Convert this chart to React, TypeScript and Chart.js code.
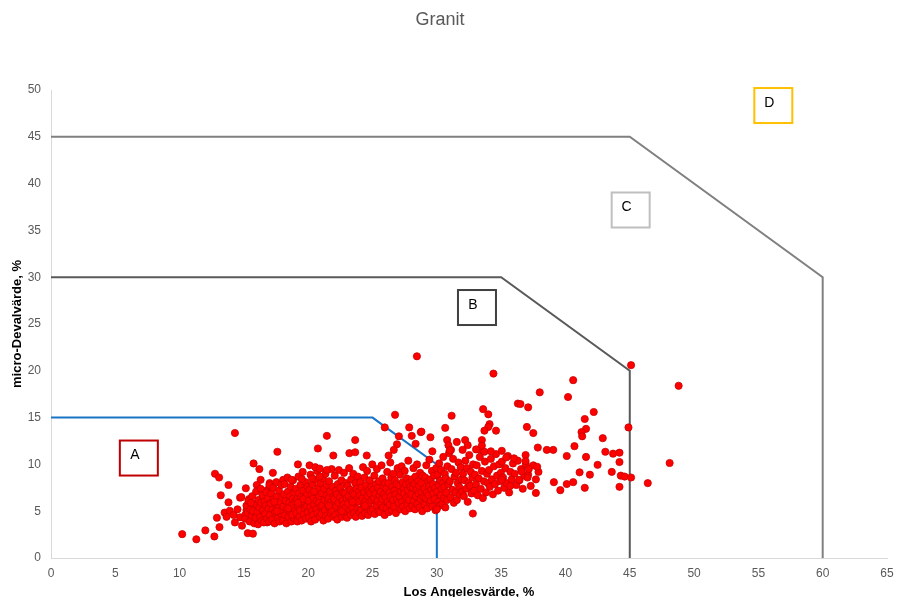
import React, { useEffect, useRef } from 'react';
import { Chart, registerables } from 'chart.js';

Chart.register(...registerables);

const chartTitle = 'Granit';
const xTitle = 'Los Angelesvärde, %';
const yTitle = 'micro-Devalvärde, %';

const xTicks = { min: 0, max: 65, step: 5 };
const yTicks = { min: 0, max: 50, step: 5 };

// Granite test results: [Los Angeles value %, micro-Deval value %]
const lowSamples: [number, number][] = [
  [10.2, 2.55], [11.3, 2.0], [12.0, 2.95], [12.7, 2.3], [12.75, 9.0], [13.07, 8.6], [12.9, 4.3],
  [13.1, 3.3], [13.2, 6.7], [13.5, 4.85], [13.65, 4.4], [13.8, 7.8], [13.8, 5.95], [13.9, 5.05],
  [14.3, 13.35], [14.3, 3.8], [14.7, 6.45], [14.85, 3.45], [14.7, 4.35], [15.3, 2.65], [15.7, 2.6],
  [15.15, 7.45], [14.8, 6.5], [15.4, 6.3], [15.75, 10.1], [16.2, 9.5], [16.3, 8.35], [16.0, 7.8],
  [17.25, 9.1], [17.0, 8.0], [17.6, 11.35], [16.8, 7.25], [18.05, 8.35], [18.4, 4.1], [19.2, 10.0],
  [16.0, 3.9], [16.8, 3.8], [15.2, 5.1], [15.75, 5.65], [15.1, 4.6], [14.2, 4.6], [14.5, 5.2],
];

const coreSamples: [number, number][] = [
  [15.1, 4.2], [15.2, 5.6], [15.3, 4.8], [15.35, 6.1], [15.45, 3.9], [15.5, 5.2], [15.6, 4.5],
  [15.65, 6.6], [15.7, 5.0], [15.8, 3.7], [15.85, 5.8], [15.9, 4.3], [15.95, 7.1], [15.55, 5.9],
  [16.05, 4.9], [16.1, 3.6], [16.15, 6.2], [16.2, 5.4], [16.25, 4.4], [16.3, 7.4], [16.35, 5.9],
  [16.4, 4.0], [16.45, 6.7], [16.5, 5.1], [16.55, 3.8], [16.6, 6.0], [16.65, 4.7], [16.7, 5.6],
  [16.75, 7.0], [16.8, 4.2], [16.85, 6.4], [16.9, 5.3], [16.95, 3.9], [16.98, 7.8],
  [17.02, 4.6], [17.08, 5.8], [17.12, 6.9], [17.18, 4.1], [17.22, 5.2], [17.28, 7.5], [17.33, 6.3],
  [17.38, 3.7], [17.42, 4.9], [17.47, 5.7], [17.52, 8.1], [17.57, 6.6], [17.62, 4.3], [17.67, 5.4],
  [17.72, 7.2], [17.76, 3.9], [17.8, 6.0], [17.85, 4.8], [17.9, 7.8], [17.94, 5.1], [17.97, 6.5],
  [17.55, 5.0], [17.35, 6.0],
  [18.03, 4.0], [18.07, 5.5], [18.12, 6.8], [18.16, 7.9], [18.2, 4.6], [18.25, 6.1], [18.3, 3.7],
  [18.34, 5.2], [18.38, 8.6], [18.42, 7.1], [18.47, 4.4], [18.52, 5.9], [18.56, 6.6], [18.6, 4.9],
  [18.64, 7.6], [18.69, 3.9], [18.73, 5.6], [18.78, 6.3], [18.82, 8.3], [18.86, 4.3], [18.9, 7.0],
  [18.94, 5.0], [18.98, 6.0], [18.45, 5.3], [18.75, 4.6],
  [19.03, 7.4], [19.07, 4.8], [19.11, 6.2], [19.15, 3.9], [19.19, 5.6], [19.24, 8.7], [19.28, 6.9],
  [19.32, 4.4], [19.36, 5.1], [19.4, 7.8], [19.45, 6.5], [19.49, 4.0], [19.53, 5.8], [19.57, 9.2],
  [19.62, 7.2], [19.66, 4.7], [19.7, 6.0], [19.74, 5.3], [19.78, 8.1], [19.82, 4.2], [19.86, 6.7],
  [19.9, 5.5], [19.94, 7.6], [19.97, 4.9], [19.6, 6.3], [19.2, 5.9],
  [20.02, 6.1], [20.06, 4.3], [20.1, 7.3], [20.14, 5.4], [20.18, 8.9], [20.22, 3.9], [20.26, 6.8],
  [20.3, 5.0], [20.34, 7.9], [20.38, 4.6], [20.42, 6.4], [20.46, 5.7], [20.5, 8.4], [20.54, 4.1],
  [20.58, 7.0], [20.62, 5.2], [20.66, 6.1], [20.7, 9.3], [20.74, 4.8], [20.78, 7.5], [20.82, 5.9],
  [20.86, 6.6], [20.9, 4.4], [20.94, 8.0], [20.98, 5.5], [20.45, 7.1],
  [21.02, 4.7], [21.06, 6.9], [21.1, 5.6], [21.14, 8.5], [21.18, 4.0], [21.22, 7.4], [21.26, 6.2],
  [21.3, 5.1], [21.34, 9.0], [21.38, 4.5], [21.42, 6.7], [21.46, 7.8], [21.5, 5.8], [21.54, 4.2],
  [21.58, 6.4], [21.62, 8.2], [21.66, 5.3], [21.7, 7.1], [21.74, 4.8], [21.78, 6.0], [21.82, 9.5],
  [21.86, 5.0], [21.9, 7.6], [21.94, 6.5], [21.98, 4.4], [21.6, 5.6],
  [22.02, 6.3], [22.06, 8.8], [22.1, 4.6], [22.14, 7.2], [22.18, 5.5], [22.22, 6.8], [22.26, 4.1],
  [22.3, 7.9], [22.34, 5.9], [22.38, 9.4], [22.42, 4.9], [22.46, 6.5], [22.5, 7.5], [22.54, 5.2],
  [22.58, 8.3], [22.62, 4.4], [22.66, 6.1], [22.7, 7.0], [22.74, 5.7], [22.78, 9.1], [22.82, 4.7],
  [22.86, 6.9], [22.9, 5.4], [22.94, 8.0], [22.98, 6.4], [22.6, 5.0],
  [23.02, 4.3], [23.06, 7.7], [23.1, 5.8], [23.14, 6.6], [23.18, 9.6], [23.22, 5.0], [23.26, 7.3],
  [23.3, 4.6], [23.34, 8.4], [23.38, 6.2], [23.42, 5.4], [23.46, 7.0], [23.5, 9.0], [23.54, 4.8],
  [23.58, 6.8], [23.62, 5.9], [23.66, 8.0], [23.7, 4.4], [23.74, 7.4], [23.78, 6.3], [23.82, 5.2],
  [23.86, 8.7], [23.9, 6.0], [23.94, 7.1], [23.98, 4.9], [23.45, 6.0],
  [24.02, 6.7], [24.06, 8.1], [24.1, 5.1], [24.14, 7.5], [24.18, 4.5], [24.22, 6.4], [24.26, 9.7],
  [24.3, 5.7], [24.34, 7.0], [24.38, 8.6], [24.42, 4.8], [24.46, 6.1], [24.5, 7.8], [24.54, 5.4],
  [24.58, 9.3], [24.62, 6.6], [24.66, 4.6], [24.7, 7.2], [24.74, 5.9], [24.78, 8.3], [24.82, 6.9],
  [24.86, 5.0], [24.9, 7.6], [24.94, 6.2], [24.98, 10.0], [24.4, 5.6],
  [25.02, 5.2], [25.06, 7.3], [25.1, 6.4], [25.14, 8.8], [25.18, 4.7], [25.22, 6.9], [25.26, 7.9],
  [25.3, 5.6], [25.34, 9.5], [25.38, 6.1], [25.42, 7.5], [25.46, 5.0], [25.5, 8.2], [25.54, 6.7],
  [25.58, 4.9], [25.62, 7.1], [25.66, 5.8], [25.7, 9.9], [25.74, 6.3], [25.78, 8.5], [25.82, 5.4],
  [25.86, 7.7], [25.9, 6.8], [25.94, 4.6], [25.98, 8.0],
  [26.02, 6.5], [26.06, 7.4], [26.1, 5.3], [26.14, 9.2], [26.18, 6.0], [26.22, 8.0], [26.26, 4.9],
  [26.3, 7.0], [26.34, 5.7], [26.38, 10.2], [26.42, 6.6], [26.46, 8.6], [26.5, 5.1], [26.54, 7.6],
  [26.58, 6.2], [26.62, 9.0], [26.66, 5.5], [26.7, 7.2], [26.74, 8.3], [26.78, 6.8], [26.82, 4.8],
  [26.86, 7.9], [26.9, 6.3], [26.95, 9.6],
  [27.02, 5.9], [27.06, 7.7], [27.1, 6.6], [27.14, 8.9], [27.18, 5.2], [27.22, 7.1], [27.26, 9.8],
  [27.3, 6.0], [27.34, 8.1], [27.38, 5.5], [27.42, 7.4], [27.46, 6.9], [27.5, 9.3], [27.54, 5.0],
  [27.58, 7.9], [27.62, 6.4], [27.66, 8.5], [27.7, 5.7], [27.74, 7.2], [27.78, 10.4], [27.82, 6.2],
  [27.86, 8.0], [27.9, 5.3], [27.95, 7.6],
  [28.02, 6.8], [28.06, 8.4], [28.1, 5.6], [28.14, 7.5], [28.18, 9.6], [28.22, 6.1], [28.26, 7.9],
  [28.3, 5.2], [28.34, 8.7], [28.38, 6.6], [28.42, 7.3], [28.46, 10.0], [28.5, 5.8], [28.54, 8.2],
  [28.58, 6.9], [28.62, 7.7], [28.66, 5.4], [28.7, 9.1], [28.74, 6.3], [28.78, 8.0], [28.82, 7.0],
  [28.86, 5.0], [28.9, 8.8], [28.95, 6.5],
  [29.02, 7.4], [29.06, 5.7], [29.1, 8.6], [29.14, 6.4], [29.18, 9.9], [29.22, 7.0], [29.26, 5.3],
  [29.3, 8.1], [29.34, 6.7], [29.38, 7.7], [29.42, 10.5], [29.46, 5.9], [29.5, 8.4], [29.54, 6.1],
  [29.58, 7.3], [29.62, 9.3], [29.66, 5.5], [29.7, 7.9], [29.74, 6.9], [29.78, 8.8], [29.82, 6.3],
  [29.86, 7.5], [29.9, 5.1], [29.95, 9.6],
  [30.02, 7.1], [30.06, 8.9], [30.1, 6.0], [30.14, 7.8], [30.18, 10.1], [30.22, 5.6], [30.26, 8.3],
  [30.3, 6.7], [30.34, 9.4], [30.38, 7.4], [30.42, 5.8], [30.46, 8.0], [30.5, 10.8], [30.54, 6.4],
  [30.58, 7.6], [30.62, 9.0], [30.66, 5.4], [30.7, 8.5], [30.74, 7.0], [30.78, 6.2], [30.82, 9.8],
  [30.9, 7.9], [30.95, 11.2],
  [31.02, 8.2], [31.08, 6.5], [31.14, 9.5], [31.2, 7.3], [31.26, 10.6], [31.32, 5.9], [31.38, 8.7],
  [31.44, 7.0], [31.5, 9.1], [31.56, 6.2], [31.62, 8.0], [31.68, 10.2], [31.74, 7.6], [31.8, 6.8],
  [31.86, 9.7], [31.92, 8.4], [31.97, 7.1],
  [32.04, 9.0], [32.1, 6.6], [32.16, 8.3], [32.22, 10.4], [32.28, 7.4], [32.34, 9.6], [32.4, 6.0],
  [32.46, 8.0], [32.52, 11.0], [32.58, 7.7], [32.64, 9.2], [32.7, 6.9], [32.76, 8.6], [32.82, 10.0],
  [32.9, 7.2], [32.96, 8.9],
  [33.04, 7.9], [33.1, 9.9], [33.18, 6.7], [33.26, 8.5], [33.34, 10.8], [33.42, 7.4], [33.5, 9.3],
  [33.58, 6.4], [33.66, 8.2], [33.74, 10.3], [33.82, 7.0], [33.9, 9.0], [33.96, 8.0], [33.3, 11.6],
  [34.05, 9.4], [34.12, 7.6], [34.2, 10.6], [34.28, 8.4], [34.36, 6.8], [34.44, 9.8], [34.52, 7.9],
  [34.6, 11.1], [34.68, 8.8], [34.76, 7.2], [34.84, 10.0], [34.92, 8.2], [34.98, 9.1],
  [35.06, 10.3], [35.15, 8.6], [35.24, 7.5], [35.33, 9.6], [35.42, 8.0], [35.52, 10.9], [35.62, 7.0],
  [35.72, 9.2], [35.82, 8.4], [35.92, 10.1],
  [36.05, 9.0], [36.18, 7.8], [36.3, 10.4], [36.42, 8.3], [36.55, 9.5], [36.68, 7.4], [36.8, 8.8],
  [36.92, 10.0],
  [37.1, 8.9], [37.3, 7.7], [37.5, 9.9], [37.7, 8.4], [37.9, 9.2],
];

const upperSamples: [number, number][] = [
  [18.7, 8.35], [19.5, 8.45], [20.3, 8.5], [20.9, 8.7], [20.1, 9.9], [20.55, 9.7], [20.9, 9.55],
  [21.45, 9.4], [21.45, 13.05], [23.65, 12.6], [20.75, 11.7], [21.95, 10.95], [23.2, 11.2],
  [23.65, 11.3], [24.55, 10.95], [25.95, 13.95], [27.85, 13.95], [28.75, 13.45], [29.5, 12.9],
  [30.65, 13.9], [27.05, 13.0], [28.05, 13.05], [28.35, 12.2], [26.9, 12.15], [26.65, 11.55],
  [26.25, 10.95], [29.65, 11.4], [28.45, 21.55], [26.75, 15.3], [28.8, 13.5], [30.8, 12.6],
  [30.9, 12.05], [31.55, 12.4], [32.2, 12.6], [32.4, 12.05], [32.0, 11.55], [31.1, 11.55],
  [30.0, 5.2], [32.8, 4.75], [31.15, 15.2],
];

const highSamples: [number, number][] = [
  [34.4, 19.7], [45.1, 20.6], [48.8, 18.4], [40.6, 19.0], [38.0, 17.7], [40.2, 17.2], [36.3, 16.5],
  [36.5, 16.45], [37.1, 16.1], [33.6, 15.9], [34.0, 15.35], [42.2, 15.6], [41.5, 14.85],
  [44.9, 13.95], [34.1, 14.3], [34.0, 14.0], [33.7, 13.6], [34.6, 13.6], [37.0, 14.0],
  [37.5, 13.35], [41.6, 13.8], [41.25, 13.45], [41.3, 13.0], [42.9, 12.8], [31.0, 11.5],
  [33.5, 12.6], [33.5, 12.0], [33.05, 11.6], [33.7, 11.35], [34.2, 11.4], [35.05, 11.45],
  [37.85, 11.8], [38.55, 11.55], [39.05, 11.55], [40.7, 11.95], [40.1, 10.9], [41.6, 10.8],
  [43.1, 11.35], [43.7, 11.15], [44.2, 11.25], [42.5, 9.95], [44.2, 10.25], [48.1, 10.15],
  [41.1, 9.15], [41.9, 8.9], [43.6, 9.2], [44.3, 8.8], [44.6, 8.7], [45.1, 8.6], [46.4, 8.0],
  [44.2, 7.6], [41.5, 7.5], [40.6, 8.1], [40.1, 7.9], [39.6, 7.25], [39.1, 8.1], [37.7, 6.95],
  [36.0, 10.65], [35.4, 10.75], [36.9, 11.0], [36.9, 10.35], [35.05, 8.35], [35.7, 7.7],
  [36.4, 8.35], [37.05, 8.6], [37.8, 9.75], [37.15, 9.5], [36.6, 9.25],
];

// Class limits (LA value, micro-Deval value)
const limitA: [number, number][] = [[0, 15], [25, 15], [30, 10], [30, 0]];
const limitB: [number, number][] = [[0, 30], [35, 30], [45, 20], [45, 0]];
const limitC: [number, number][] = [[0, 45], [45, 45], [60, 30], [60, 0]];

// Class labels and where they sit
const classNames = ['A', 'B', 'C', 'D'];
const classLabelX = [6.83, 33.12, 45.07, 56.16];
const classLabelY = [10.68, 26.76, 37.18, 48.34];
const classColors = ['#c00000', '#404040', '#bfbfbf', '#ffc000'];

const FONT = '"Liberation Sans", Arial, Helvetica, sans-serif';

const toPoints = (rows: [number, number][]) => rows.map(([x, y]) => ({ x, y }));

const decorations = {
  id: 'decorations',
  afterDatasetsDraw(chart: any) {
    const { ctx } = chart;
    const xs = chart.scales.x;
    const ys = chart.scales.y;
    ctx.save();
    classNames.forEach((name, i) => {
      const cx = xs.getPixelForValue(classLabelX[i]);
      const cy = ys.getPixelForValue(classLabelY[i]);
      const w = 38;
      const h = 35;
      ctx.fillStyle = '#ffffff';
      ctx.fillRect(cx - w / 2, cy - h / 2, w, h);
      ctx.strokeStyle = classColors[i];
      ctx.lineWidth = 2;
      ctx.strokeRect(cx - w / 2, cy - h / 2, w, h);
      ctx.fillStyle = '#000000';
      ctx.font = `14px ${FONT}`;
      ctx.textAlign = 'center';
      ctx.textBaseline = 'middle';
      ctx.fillText(name, cx - 4, cy - 2.5);
    });
    ctx.restore();
  },
  afterDraw(chart: any) {
    const { ctx } = chart;
    ctx.save();
    ctx.fillStyle = '#595959';
    ctx.font = `18px ${FONT}`;
    ctx.textAlign = 'center';
    ctx.textBaseline = 'middle';
    ctx.fillText(chartTitle, 440, 20);
    ctx.restore();
  },
};

export default function App() {
  const canvasRef = useRef<HTMLCanvasElement | null>(null);

  useEffect(() => {
    document.body.style.margin = '0';
    const canvas = canvasRef.current;
    if (!canvas) return;

    const limitStyle = (color: string) => ({
      showLine: true,
      borderColor: color,
      borderWidth: 2,
      pointRadius: 0,
      pointHoverRadius: 0,
      fill: false,
      tension: 0,
    });

    const chart = new Chart(canvas, {
      type: 'scatter',
      data: {
        datasets: [
          {
            label: chartTitle,
            data: toPoints([...lowSamples, ...coreSamples, ...upperSamples, ...highSamples]),
            backgroundColor: '#ff0000',
            borderColor: '#c80000',
            borderWidth: 0.8,
            pointRadius: 3.6,
          },
          { label: 'A', data: toPoints(limitA), ...limitStyle('#1874c6') },
          { label: 'B', data: toPoints(limitB), ...limitStyle('#595959') },
          { label: 'C', data: toPoints(limitC), ...limitStyle('#808080') },
        ],
      },
      options: {
        responsive: false,
        animation: false,
        devicePixelRatio: 1,
        layout: { padding: { top: 90, right: 10, bottom: 0, left: 0 } },
        plugins: {
          legend: { display: false },
          tooltip: { enabled: false },
          title: { display: false },
        },
        scales: {
          x: {
            type: 'linear',
            min: xTicks.min,
            max: xTicks.max,
            ticks: {
              stepSize: xTicks.step,
              color: '#595959',
              font: { family: FONT, size: 12 },
              padding: 8,
            },
            grid: { display: false, drawTicks: false },
            border: { display: true, color: '#d9d9d9', width: 1 },
            title: {
              display: true,
              text: xTitle,
              color: '#000000',
              font: { family: FONT, size: 13, weight: 'bold', lineHeight: 1 },
              padding: { top: 0, bottom: -2 },
            },
            afterFit: (scale: any) => {
              scale.height = 39;
              scale.paddingLeft = 0;
              scale.paddingRight = 0;
            },
          },
          y: {
            type: 'linear',
            min: yTicks.min,
            max: yTicks.max,
            ticks: {
              stepSize: yTicks.step,
              color: '#595959',
              font: { family: FONT, size: 12 },
              padding: 10,
            },
            grid: { display: false, drawTicks: false },
            border: { display: true, color: '#d9d9d9', width: 1 },
            title: {
              display: true,
              text: yTitle,
              color: '#000000',
              font: { family: FONT, size: 13, weight: 'bold', lineHeight: 1 },
              padding: { top: 11, bottom: 0 },
            },
            afterFit: (scale: any) => {
              scale.width = 51;
              scale.paddingTop = 0;
              scale.paddingBottom = 0;
            },
          },
        },
      } as any,
      plugins: [decorations],
    });

    return () => chart.destroy();
  }, []);

  return (
    <div style={{ width: 897, height: 597, background: '#ffffff' }}>
      <canvas ref={canvasRef} width={897} height={597} />
    </div>
  );
}
